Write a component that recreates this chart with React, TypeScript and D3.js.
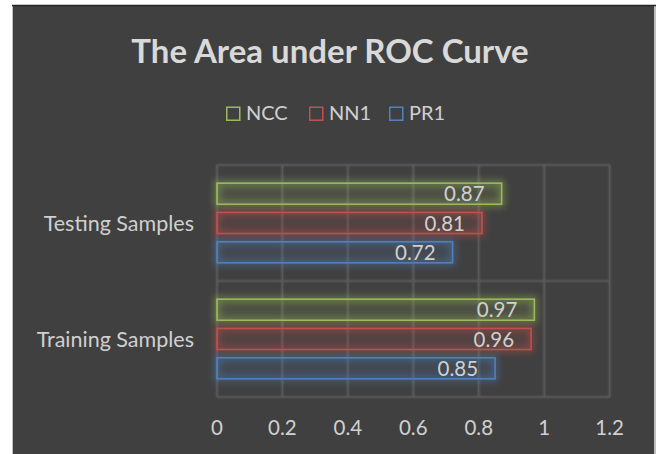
import React from "react";
import * as d3 from "d3";

const categories = ["Testing Samples", "Training Samples"];
const seriesNames = ["NCC", "NN1", "PR1"];
const seriesColors = ["#9bbb59", "#c0504d", "#4f81bd"];
const ncc = [0.87, 0.97];
const nn1 = [0.81, 0.96];
const pr1 = [0.72, 0.85];
const xTicks = [0, 0.2, 0.4, 0.6, 0.8, 1, 1.2];

const values = [ncc, nn1, pr1];

const W = 660;
const H = 454;
const margin = { left: 217, right: 50, top: 165, bottom: 57 };
const FONT = "Lato, 'Open Sans', sans-serif";
const TEXT = "#d0d0d0";

export default function App() {
  const x = d3
    .scaleLinear()
    .domain([0, 1.2])
    .range([margin.left, W - margin.right - 0.4]);
  const y = d3
    .scaleBand()
    .domain(categories)
    .range([margin.top, H - margin.bottom])
    .paddingInner(0)
    .paddingOuter(0);
  const ys = d3
    .scaleBand()
    .domain(seriesNames)
    .range([0, y.bandwidth()])
    .paddingInner(0.28)
    .paddingOuter(0.62);

  const legendX = [226, 309, 389];
  const hLines = [margin.top, ...categories.map((c) => (y(c) as number) + y.bandwidth())];

  return (
    <div style={{ position: "absolute", left: 0, top: 0 }}>
      <svg width={W} height={H} style={{ display: "block" }}>
        <defs>
          <filter id="glow" x="-10%" y="-60%" width="120%" height="220%">
            <feGaussianBlur stdDeviation="3.5" />
          </filter>
          <filter id="gridglow" x="-10%" y="-10%" width="120%" height="120%">
            <feGaussianBlur stdDeviation="0.8" />
          </filter>
        </defs>
        <rect x={0} y={0} width={W} height={H} fill="#ffffff" />
        <rect x={12} y={5} width={644} height={H - 5} fill="#bfbfbf" />
        <rect x={13} y={5} width={641} height={H - 5} fill="#404040" />
        <line x1={12} x2={656} y1={5.5} y2={5.5} stroke="#262626" strokeWidth={1.5} />

        <text
          x={W / 2}
          y={63}
          textAnchor="middle"
          fontFamily={FONT}
          fontWeight="bold"
          fontSize={33}
          fill="#d9d9d9"
        >
          The Area under ROC Curve
        </text>

        {seriesNames.map((s, i) => (
          <g key={s}>
            <rect
              x={legendX[i] + 0.75}
              y={107.25}
              width={13}
              height={13}
              fill="none"
              stroke={seriesColors[i]}
              strokeWidth={1.5}
            />
            <text
              x={legendX[i] + 20}
              y={120}
              fontFamily={FONT}
              fontSize={20}
              fill={TEXT}
            >
              {s}
            </text>
          </g>
        ))}

        <g filter="url(#gridglow)" stroke="#6a6a6a" strokeWidth={1.2}>
          {xTicks.map((t) => (
            <line key={t} x1={x(t)} x2={x(t)} y1={margin.top} y2={H - margin.bottom} />
          ))}
          {hLines.map((v, i) => (
            <line key={i} x1={x(0)} x2={x(1.2)} y1={v} y2={v} />
          ))}
        </g>
        <g stroke="#5a5a5a" strokeWidth={1}>
          {xTicks.map((t) => (
            <line key={t} x1={x(t)} x2={x(t)} y1={margin.top} y2={H - margin.bottom} />
          ))}
          {hLines.map((v, i) => (
            <line key={i} x1={x(0)} x2={x(1.2)} y1={v} y2={v} />
          ))}
        </g>

        {categories.map((c, ci) => (
          <g key={c} transform={`translate(0,${y(c)})`}>
            {seriesNames.map((s, si) => {
              const v = values[si][ci];
              const by = ys(s) as number;
              const bh = ys.bandwidth();
              const col = seriesColors[si];
              return (
                <g key={s}>
                  <rect
                    x={x(0)}
                    y={by}
                    width={x(v) - x(0)}
                    height={bh}
                    fill="none"
                    stroke={col}
                    strokeWidth={6}
                    opacity={0.45}
                    filter="url(#glow)"
                  />
                  <rect
                    x={x(0)}
                    y={by}
                    width={x(v) - x(0)}
                    height={bh}
                    fill={col}
                    fillOpacity={0.14}
                    stroke={col}
                    strokeWidth={1.6}
                  />
                  <text
                    x={x(v) - 17}
                    y={by + bh / 2 + 7.5}
                    textAnchor="end"
                    fontFamily={FONT}
                    fontSize={20.5}
                    fill={TEXT}
                  >
                    {d3.format(".2f")(v)}
                  </text>
                </g>
              );
            })}
            <text
              x={194}
              y={y.bandwidth() / 2 + 7.5}
              textAnchor="end"
              fontFamily={FONT}
              fontSize={21.5}
              fill={TEXT}
            >
              {c}
            </text>
          </g>
        ))}

        {xTicks.map((t) => (
          <text
            key={t}
            x={x(t)}
            y={435}
            textAnchor="middle"
            fontFamily={FONT}
            fontSize={20.5}
            fill={TEXT}
          >
            {d3.format("")(t)}
          </text>
        ))}
      </svg>
    </div>
  );
}
